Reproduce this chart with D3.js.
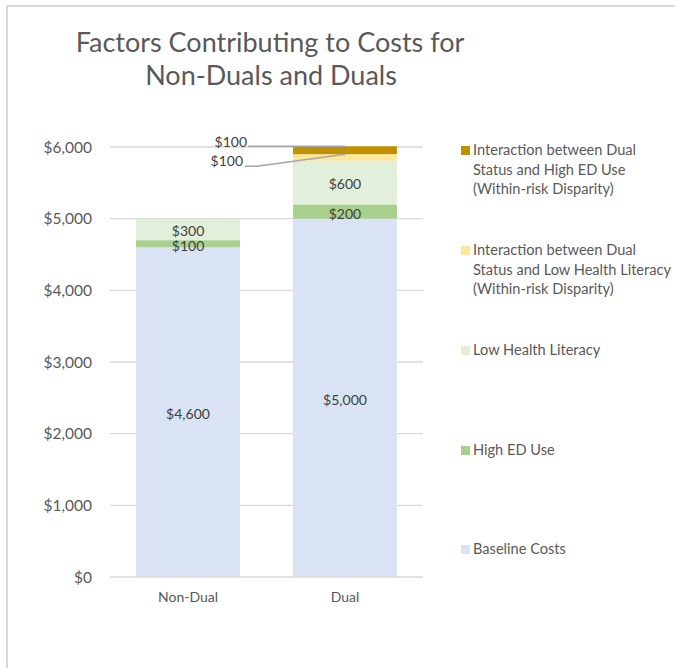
<!DOCTYPE html>
<html>
<head>
<meta charset="utf-8">
<script src="https://cdn.jsdelivr.net/npm/d3@7"></script>
<style>
  html, body { margin: 0; background: #fff; overflow: hidden; }
  svg { display: block; font-family: Lato, "Open Sans", sans-serif; }
</style>
</head>
<body>
<svg id="chart" width="675" height="668"></svg>
<script>
// Data
const categories = ["Non-Dual", "Dual"];
const seriesNames = [
    "Baseline Costs",
    "High ED Use",
    "Low Health Literacy",
    "Interaction between Dual Status and Low Health Literacy (Within-risk Disparity)",
    "Interaction between Dual Status and High ED Use (Within-risk Disparity)"
];
const baseline = [4600, 5000];
const highED = [100, 200];
const lowHL = [300, 610];
const interLHL = [0, 90];
const interED = [0, 110];
const yTicks = [0, 1000, 2000, 3000, 4000, 5000, 6000];
const colors = ["#dae3f3", "#a9d18e", "#e2efda", "#ffe699", "#bf9000"];

// legend text lines, top entry first
const legendLines = [
    ["Interaction between Dual", "Status and High ED Use", "(Within-risk Disparity)"],
    ["Interaction between Dual", "Status and Low Health Literacy", "(Within-risk Disparity)"],
    ["Low Health Literacy"],
    ["High ED Use"],
    ["Baseline Costs"]
];

const svg = d3.select("#chart");
const textColor = "#595959";

// chart border: only the top and left edges show
svg.append("path")
    .attr("d", "M7,675 L7,6 L675,6")
    .attr("fill", "none")
    .attr("stroke", "#d9d9d9")
    .attr("stroke-width", 2);

// title
const title = svg.append("text")
    .attr("text-anchor", "middle")
    .attr("fill", textColor)
    .attr("font-size", 27);
title.append("tspan").attr("x", 270).attr("y", 52).text("Factors Contributing to Costs for");
title.append("tspan").attr("x", 271).attr("y", 85).text("Non-Duals and Duals");

// scales
const y = d3.scaleLinear().domain([0, 6000]).range([577, 147]);
const x = d3.scaleBand().domain(categories).range([110, 423])
    .paddingInner(0.338).paddingOuter(0.166);

// gridlines + y labels
const fmt = d3.format("$,.0f");
svg.append("g").selectAll("line").data(yTicks.slice(1)).join("line")
    .attr("x1", 110).attr("x2", 423)
    .attr("y1", d => y(d)).attr("y2", d => y(d))
    .attr("stroke", "#d9d9d9").attr("stroke-width", 1.3);

svg.append("g").selectAll("text").data(yTicks).join("text")
    .attr("x", 92).attr("y", d => y(d) + 5.5)
    .attr("text-anchor", "end")
    .attr("fill", textColor).attr("font-size", 15.5)
    .text(d => fmt(d));

// stacked bars
const rows = categories.map((c, i) => ({
    cat: c, s0: baseline[i], s1: highED[i], s2: lowHL[i], s3: interLHL[i], s4: interED[i]
}));
const stack = d3.stack().keys(["s0", "s1", "s2", "s3", "s4"]);
const layers = stack(rows);

const g = svg.append("g");
layers.forEach((layer, li) => {
    g.selectAll(null).data(layer).join("rect")
        .attr("x", d => x(d.data.cat))
        .attr("width", x.bandwidth())
        .attr("y", d => y(d[1]))
        .attr("height", d => y(d[0]) - y(d[1]))
        .attr("fill", colors[li]);
});

// x axis line
svg.append("line")
    .attr("x1", 110).attr("x2", 423)
    .attr("y1", y(0)).attr("y2", y(0))
    .attr("stroke", "#d9d9d9").attr("stroke-width", 1.5);

svg.append("g").selectAll("text").data(categories).join("text")
    .attr("x", d => x(d) + x.bandwidth() / 2)
    .attr("y", 602)
    .attr("text-anchor", "middle")
    .attr("fill", textColor).attr("font-size", 14)
    .text(d => d);

// data labels
const lblFmt = v => fmt(Math.round(v / 100) * 100);
const labelColor = "#404040";
layers.slice(0, 3).forEach(layer => {
    g.selectAll(null).data(layer).join("text")
        .attr("x", d => x(d.data.cat) + x.bandwidth() / 2)
        .attr("y", d => (y(d[0]) + y(d[1])) / 2 + 7)
        .attr("text-anchor", "middle")
        .attr("fill", labelColor).attr("font-size", 14)
        .text(d => lblFmt(d[1] - d[0]));
});

// small segments on Dual: labels with leader lines
const dual = categories[1];
const cx = x(dual) + x.bandwidth() / 2;
const edSeg = layers[4][1];
const lhlSeg = layers[3][1];
const leader = svg.append("g").attr("fill", "none").attr("stroke", "#a6a6a6").attr("stroke-width", 1.5);

// interaction ED label (top)
svg.append("text")
    .attr("x", 247).attr("y", y(edSeg[1]) + 1)
    .attr("text-anchor", "end")
    .attr("fill", labelColor).attr("font-size", 14)
    .text(lblFmt(edSeg[1] - edSeg[0]));
leader.append("path")
    .attr("d", `M248,${y(edSeg[1])} L${cx},${y(edSeg[1])}`);

// interaction LHL label
svg.append("text")
    .attr("x", 243).attr("y", y(lhlSeg[1]) + 12)
    .attr("text-anchor", "end")
    .attr("fill", labelColor).attr("font-size", 14)
    .text(lblFmt(lhlSeg[1] - lhlSeg[0]));
leader.append("path")
    .attr("d", `M245,${y(lhlSeg[1]) + 12} L257,${y(lhlSeg[1]) + 12} L${cx},${y(lhlSeg[1])}`);

// legend
const legendY = [150, 250, 350, 450, 549];
const legendColors = colors.slice().reverse();
legendLines.forEach((lines, i) => {
    const ly = legendY[i];
    svg.append("rect")
        .attr("x", 461).attr("y", ly - 4)
        .attr("width", 9).attr("height", 9)
        .attr("fill", legendColors[i]);
    const t = svg.append("text")
        .attr("fill", textColor).attr("font-size", 14.6);
    lines.forEach((line, j) => {
        t.append("tspan").attr("x", 473).attr("y", ly + 5 + j * 19.7).text(line);
    });
});
</script>
</body>
</html>
